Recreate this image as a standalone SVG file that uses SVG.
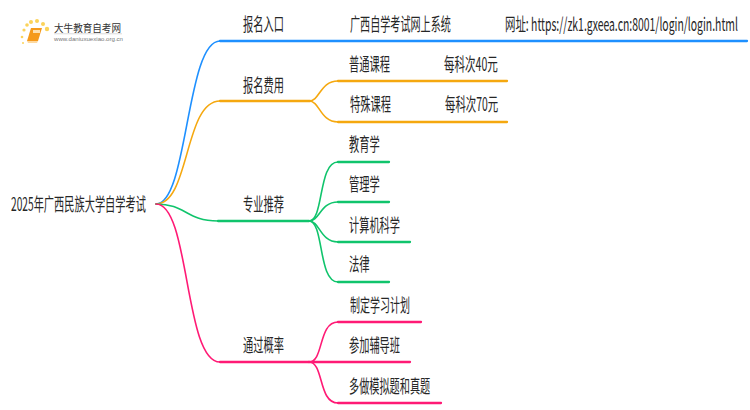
<svg xmlns="http://www.w3.org/2000/svg" width="750" height="410" viewBox="0 0 750 410">
<style>
text{font-family:"Noto Sans CJK SC","Liberation Sans",sans-serif;font-size:18px;fill:#262626}
.c{fill:none;stroke-linecap:round;stroke-width:2.3}
.t{stroke-width:1.6}
.b{stroke:#1e90ff}.o{stroke:#f5a80f}.g{stroke:#10c46c}.p{stroke:#ff1a75}
</style>
<rect width="750" height="410" fill="#ffffff"/>
<g id="connectors">
<path class="c t b" d="M156 204C188 204 186 41 220 41"/><path class="c b" d="M220 41H747"/>
<path class="c t o" d="M156 204C190 204 184 101 220 101"/><path class="c o" d="M220 101H310"/>
<path class="c t o" d="M309 101C320 101 320 81 338 81"/><path class="c o" d="M338 81H507"/>
<path class="c t o" d="M309 101C320 101 320 122 338 122"/><path class="c o" d="M338 122H507"/>
<path class="c t g" d="M156 204C186 204 186 221 218 221"/><path class="c g" d="M218 221H309"/>
<path class="c t g" d="M309 221C324 221 318 162 338 162"/><path class="c g" d="M338 162H389"/>
<path class="c t g" d="M309 221C320 221 320 202 338 202"/><path class="c g" d="M338 202H389"/>
<path class="c t g" d="M309 221C320 221 320 242 338 242"/><path class="c g" d="M338 242H410"/>
<path class="c t g" d="M309 221C324 221 318 282 338 282"/><path class="c g" d="M338 282H389"/>
<path class="c t p" d="M156 204C190 204 184 362 220 362"/><path class="c p" d="M220 362H309"/>
<path class="c t p" d="M309 362C324 362 318 322 338 322"/><path class="c p" d="M338 322H421"/>
<path class="c p" d="M309 362H410"/>
<path class="c t p" d="M309 362C324 362 318 403 338 403"/><path class="c p" d="M338 403H441"/>
</g>
<g id="logo">
<g fill="#fbd35a"><circle cx="24" cy="30" r="1.6"/><circle cx="22" cy="37" r="1.3"/><circle cx="27" cy="25" r="1.8"/><circle cx="31" cy="22" r="2"/><circle cx="37" cy="21" r="2"/><circle cx="43" cy="24" r="2"/><circle cx="47" cy="29" r="2.2"/><circle cx="23" cy="43" r="1"/></g>
<path d="M31 28H42L38 41H27Z" fill="#f59a1c"/><path d="M27 41H38L37 43H28Z" fill="#fdd9a0"/><rect x="33" y="30" width="7" height="3" fill="#fde0b0"/>
<text x="54" y="32" textLength="67" lengthAdjust="spacingAndGlyphs" style="font-size:10.5px;fill:#333">大牛教育自考网</text>
<rect x="54" y="33.500" width="68" height="0.700" fill="#ccc"/>
<text x="54" y="41" textLength="69" lengthAdjust="spacingAndGlyphs" style="font-size:6px;fill:#777;font-family:'Liberation Sans',sans-serif">www.daniuxuexiao.org.cn</text>
</g>
<g id="root"><text transform="translate(11 211) scale(.56 1)" textLength="241" lengthAdjust="spacingAndGlyphs">2025年广西民族大学自学考试</text></g>
<g id="n1"><text transform="translate(243 31) scale(.56 1)" textLength="73" lengthAdjust="spacingAndGlyphs">报名入口</text></g>
<g id="n1a"><text transform="translate(350 31) scale(.56 1)" textLength="180" lengthAdjust="spacingAndGlyphs">广西自学考试网上系统</text></g>
<g id="n1b"><text transform="translate(505 31) scale(.56 1)" textLength="416" lengthAdjust="spacingAndGlyphs">网址: https://zk1.gxeea.cn:8001/login/login.html</text></g>
<g id="n2"><text transform="translate(243 92) scale(.56 1)" textLength="73" lengthAdjust="spacingAndGlyphs">报名费用</text></g>
<g id="n2a"><text transform="translate(349 71) scale(.56 1)" textLength="73" lengthAdjust="spacingAndGlyphs">普通课程</text><text transform="translate(444 71) scale(.56 1)" textLength="96" lengthAdjust="spacingAndGlyphs">每科次40元</text></g>
<g id="n2b"><text transform="translate(350 111) scale(.56 1)" textLength="73" lengthAdjust="spacingAndGlyphs">特殊课程</text><text transform="translate(445 111) scale(.56 1)" textLength="95" lengthAdjust="spacingAndGlyphs">每科次70元</text></g>
<g id="n3"><text transform="translate(243 211) scale(.56 1)" textLength="73" lengthAdjust="spacingAndGlyphs">专业推荐</text></g>
<g id="n3a"><text transform="translate(349 151) scale(.56 1)" textLength="55" lengthAdjust="spacingAndGlyphs">教育学</text></g>
<g id="n3b"><text transform="translate(349 191) scale(.56 1)" textLength="55" lengthAdjust="spacingAndGlyphs">管理学</text></g>
<g id="n3c"><text transform="translate(349 232) scale(.56 1)" textLength="91" lengthAdjust="spacingAndGlyphs">计算机科学</text></g>
<g id="n3d"><text transform="translate(349 271) scale(.56 1)" textLength="37" lengthAdjust="spacingAndGlyphs">法律</text></g>
<g id="n4"><text transform="translate(243 352) scale(.56 1)" textLength="73" lengthAdjust="spacingAndGlyphs">通过概率</text></g>
<g id="n4a"><text transform="translate(350 312) scale(.56 1)" textLength="107" lengthAdjust="spacingAndGlyphs">制定学习计划</text></g>
<g id="n4b"><text transform="translate(349 352) scale(.56 1)" textLength="91" lengthAdjust="spacingAndGlyphs">参加辅导班</text></g>
<g id="n4c"><text transform="translate(349 393) scale(.56 1)" textLength="145" lengthAdjust="spacingAndGlyphs">多做模拟题和真题</text></g>
</svg>
